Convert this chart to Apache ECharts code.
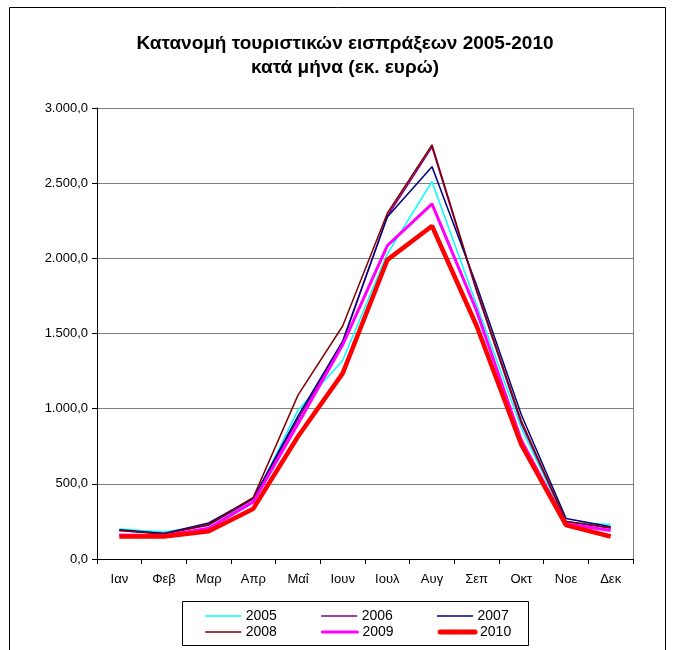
<!DOCTYPE html>
<html>
<head>
<meta charset="utf-8">
<script src="https://cdn.jsdelivr.net/npm/echarts@6/dist/echarts.min.js"></script>
<style>
html,body{margin:0;padding:0;background:#fff;}
#chart{width:680px;height:650px;}
</style>
</head>
<body>
<div id="chart"></div>
<script>
const months = ['Ιαν','Φεβ','Μαρ','Απρ','Μαΐ','Ιουν','Ιουλ','Αυγ','Σεπ','Οκτ','Νοε','Δεκ'];
const y2005 = [200,180,225,385,990,1320,2030,2510,1690,870,245,230];
const y2006 = [190,170,225,400,930,1440,2280,2740,1780,900,250,205];
const y2007 = [195,170,240,405,950,1450,2275,2610,1820,960,270,215];
const y2008 = [190,165,230,410,1090,1550,2300,2755,1790,920,250,210];
const y2009 = [160,155,205,380,900,1425,2085,2362,1650,790,235,190];
const y2010 = [150,150,185,335,815,1235,1990,2215,1550,760,225,150];
const seriesNames = ['2005','2006','2007','2008','2009','2010'];
const seriesData = [y2005,y2006,y2007,y2008,y2009,y2010];
const colors = ['#00FFFF','#800080','#000080','#800000','#FF00FF','#FF0000'];
const widths = [1.5,1.5,1.5,1.5,3,4.5];
const legendWidths = [1.5,1.5,1.5,1.5,3,5];

function fmt(v){
  const s = Math.round(v).toString().replace(/\B(?=(\d{3})+(?!\d))/g,'.');
  return s + ',0';
}

const chart = echarts.init(document.getElementById('chart'), null, {renderer:'canvas'});
const font = 'Liberation Sans, Arial, sans-serif';
const legendCommon = {left:205,padding:0,itemWidth:35,itemHeight:12,itemGap:44,
  itemStyle:{opacity:0},
  textStyle:{fontFamily:font,fontSize:14,color:'#000'}};
function legendItems(idx){
  return idx.map(i=>({name:seriesNames[i],lineStyle:{width:legendWidths[i],color:colors[i],cap:'round'}}));
}
chart.setOption({
  animation:false,
  backgroundColor:'#fff',
  title:{
    text:'Κατανομή τουριστικών εισπράξεων 2005-2010\nκατά μήνα (εκ. ευρώ)',
    left:340, textAlign:'center', top:27,
    textStyle:{fontFamily:font,fontSize:19,fontWeight:'bold',color:'#000',lineHeight:24}
  },
  graphic:[
    {type:'rect',shape:{x:9.5,y:7.5,width:656,height:660},style:{fill:null,stroke:'#000',lineWidth:1},silent:true,z:-1},
    {type:'rect',shape:{x:182.5,y:601.5,width:346,height:44},style:{fill:null,stroke:'#000',lineWidth:1},silent:true},
    {type:'polyline',shape:{points:[[97,108.5],[633.5,108.5],[633.5,559]]},style:{stroke:'#808080',lineWidth:1,fill:null},silent:true}
  ],
  legend:[
    Object.assign({data:legendItems([0,1,2]),top:609},legendCommon),
    Object.assign({data:legendItems([3,4,5]),top:625},legendCommon)
  ],
  grid:{left:97,right:47,top:108,bottom:91,containLabel:false},
  xAxis:{
    type:'category',data:months,boundaryGap:true,
    axisLine:{lineStyle:{color:'#000',width:1}},
    axisTick:{show:true,length:5,lineStyle:{color:'#000'},alignWithLabel:false},
    axisLabel:{fontFamily:font,fontSize:13,color:'#000',margin:14},
    splitLine:{show:false}
  },
  yAxis:{
    type:'value',min:0,max:3000,interval:500,
    axisLine:{show:true,lineStyle:{color:'#000',width:1}},
    axisTick:{show:true,length:5,lineStyle:{color:'#000'}},
    axisLabel:{fontFamily:font,fontSize:13,color:'#000',margin:9,formatter:fmt},
    splitLine:{show:true,lineStyle:{color:'#808080',width:1}}
  },
  series:seriesNames.map((n,i)=>({
    name:n,type:'line',data:seriesData[i],symbol:'none',showSymbol:false,
    lineStyle:{color:colors[i],width:widths[i]},itemStyle:{color:colors[i]},
    z:2+i
  }))
});
</script>
</body>
</html>
